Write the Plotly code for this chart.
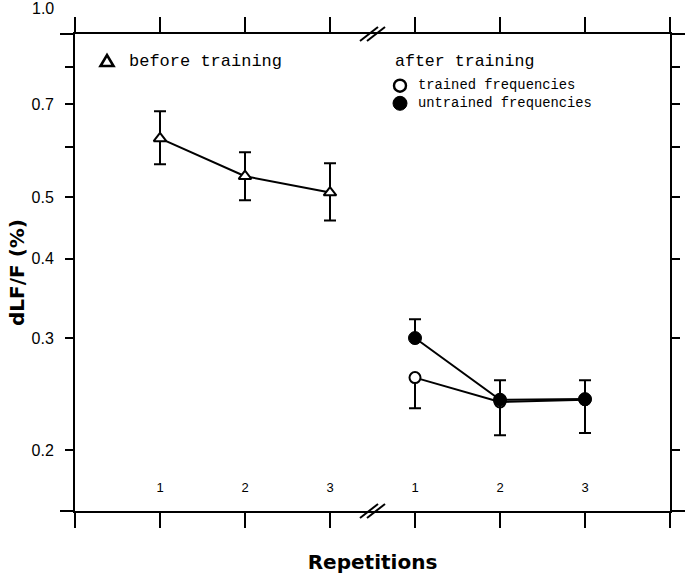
import math
import plotly.graph_objects as go

# ---------------- data ----------------
x_before = [1, 2, 3]
before_mean = [0.618, 0.539, 0.508]
before_hi = [0.682, 0.588, 0.565]
before_lo = [0.563, 0.494, 0.459]

x_after = [4, 5, 6]
trained_mean = [0.260, 0.238, 0.240]
trained_hi = [0.260, 0.238, 0.240]      # upper bars hidden / not drawn
trained_lo = [0.2326, 0.238, 0.240]

untrained_mean = [0.300, 0.240, 0.2405]
untrained_hi = [0.321, 0.2575, 0.2575]
untrained_lo = [0.300, 0.211, 0.2127]   # lower bar of first point not drawn

x_tickvals = [0, 1, 2, 3, 4, 5, 6, 7]
x_ticktext = ["", "1", "2", "3", "1", "2", "3", ""]
y_tickvals = [0.2, 0.3, 0.4, 0.5, 0.6, 0.7, 0.8]
y_ticktext = ["0.2", "0.3", "0.4", "0.5", "", "0.7", ""]
y_extra_label = 1.0
y_range = [0.1604, 0.902]
x_range = [0, 7]
x_break = 3.5

legend_before = "before training"
legend_after_title = "after training"
legend_trained = "trained frequencies"
legend_untrained = "untrained frequencies"
x_title = "Repetitions"
y_title = "dLF/F (%)"


def plus(m, h):
    return [round(a - b, 5) for a, b in zip(h, m)]


def minus(m, l):
    return [round(a - b, 5) for a, b in zip(m, l)]


BLACK = "black"
W, H = 685, 575
# plot area in pixels: left 75, right 670, top 34, bottom 511
PL, PR, PT, PB = 75, 670, 34, 511
PW, PH = PR - PL, PB - PT


def px(x):
    return (x - PL) / PW


def py(y):
    return (PB - y) / PH


LOG_LO, LOG_HI = math.log10(y_range[0]), math.log10(y_range[1])

fig = go.Figure()

err_style = dict(type="data", symmetric=False, color=BLACK, thickness=2, width=6)

fig.add_trace(go.Scatter(
    x=x_before, y=before_mean, mode="lines+markers",
    line=dict(color=BLACK, width=2),
    marker=dict(symbol="triangle-up", size=11, color="white",
                line=dict(color=BLACK, width=2)),
    error_y=dict(array=plus(before_mean, before_hi),
                 arrayminus=minus(before_mean, before_lo), **err_style),
    name=legend_before, showlegend=False))

fig.add_trace(go.Scatter(
    x=x_after, y=trained_mean, mode="lines+markers",
    line=dict(color=BLACK, width=2),
    marker=dict(symbol="circle", size=11, color="white",
                line=dict(color=BLACK, width=2)),
    error_y=dict(array=plus(trained_mean, trained_hi),
                 arrayminus=minus(trained_mean, trained_lo), **err_style),
    name=legend_trained, showlegend=False))

fig.add_trace(go.Scatter(
    x=x_after, y=untrained_mean, mode="lines+markers",
    line=dict(color=BLACK, width=2),
    marker=dict(symbol="circle", size=13, color=BLACK,
                line=dict(color=BLACK, width=1)),
    error_y=dict(array=plus(untrained_mean, untrained_hi),
                 arrayminus=minus(untrained_mean, untrained_lo), **err_style),
    name=legend_untrained, showlegend=False))

fig.update_xaxes(
    range=x_range, tickmode="array", tickvals=x_tickvals, ticktext=x_ticktext,
    ticks="outside", ticklen=15, tickwidth=2, tickcolor=BLACK,
    showline=True, linewidth=2, linecolor=BLACK, mirror="ticks",
    showgrid=False, zeroline=False,
    ticklabelposition="inside", ticklabelstandoff=16,
    tickfont=dict(family="Liberation Sans", size=13, color=BLACK),
    title=dict(text=x_title, font=dict(family="DejaVu Sans", size=20,
                                        color=BLACK, weight="bold"),
               standoff=61),
    automargin=False,
)
fig.update_yaxes(
    type="log", range=[LOG_LO, LOG_HI],
    tickmode="array", tickvals=y_tickvals, ticktext=y_ticktext,
    ticks="outside", ticklen=8, tickwidth=2, tickcolor=BLACK,
    showline=True, linewidth=2, linecolor=BLACK, mirror="ticks",
    showgrid=False, zeroline=False, ticklabelstandoff=8,
    tickfont=dict(family="Liberation Sans", size=16, color=BLACK),
    title=dict(text=y_title, font=dict(family="DejaVu Sans", size=20,
                                        color=BLACK, weight="bold"),
               standoff=2),
    automargin=False,
)

# "1.0" label that sits above the frame (placed with the log axis scale)
annotations = [dict(
    xref="paper", x=0, xshift=-20, xanchor="right",
    yref="paper",
    y=(math.log10(y_extra_label) - LOG_LO) / (LOG_HI - LOG_LO),
    yanchor="middle", yshift=-3, borderpad=0,
    text=f"{y_extra_label:.1f}", showarrow=False,
    font=dict(family="Liberation Sans", size=16, color=BLACK))]

mono = "Liberation Mono"
annotations += [
    dict(xref="paper", x=px(127), xanchor="left",
         yref="paper", y=py(61.7), yanchor="middle",
         text=legend_before, showarrow=False,
         font=dict(family=mono, size=17, color=BLACK)),
    dict(xref="paper", x=px(393), xanchor="left",
         yref="paper", y=py(61.7), yanchor="middle",
         text=legend_after_title, showarrow=False,
         font=dict(family=mono, size=16.6, color=BLACK)),
    dict(xref="paper", x=px(416), xanchor="left",
         yref="paper", y=py(85.7), yanchor="middle",
         text=legend_trained, showarrow=False,
         font=dict(family=mono, size=13.8, color=BLACK)),
    dict(xref="paper", x=px(416), xanchor="left",
         yref="paper", y=py(103.3), yanchor="middle",
         text=legend_untrained, showarrow=False,
         font=dict(family=mono, size=13.8, color=BLACK)),
]

shapes = []
# legend symbols
shapes.append(dict(type="path", xref="paper", xsizemode="pixel",
                   xanchor=px(107), yref="paper", ysizemode="pixel",
                   yanchor=py(61),
                   path="M -6.5,-5 L 6.5,-5 L 0,6 Z",
                   line=dict(color=BLACK, width=2.6), fillcolor="white"))
shapes.append(dict(type="circle", xref="paper", xsizemode="pixel",
                   xanchor=px(400), yref="paper", ysizemode="pixel",
                   yanchor=py(85.7), x0=-6, x1=6, y0=-6, y1=6,
                   line=dict(color=BLACK, width=2.4), fillcolor="white"))
shapes.append(dict(type="circle", xref="paper", xsizemode="pixel",
                   xanchor=px(400), yref="paper", ysizemode="pixel",
                   yanchor=py(103.3), x0=-7, x1=7, y0=-7, y1=7,
                   line=dict(color=BLACK, width=1), fillcolor=BLACK))
# axis breaks
for yv in (0, 1):
    for dx in (-12.5, -5.5):
        shapes.append(dict(type="line", xref="x", xsizemode="pixel",
                           xanchor=x_break, yref="paper", ysizemode="pixel",
                           yanchor=yv, x0=dx, x1=dx + 18, y0=-7, y1=7,
                           line=dict(color=BLACK, width=2)))
# frame corner extensions
for yv in (0, 1):
    shapes.append(dict(type="line", xref="paper", xsizemode="pixel", xanchor=0,
                       x0=-15, x1=0, yref="paper", y0=yv, y1=yv,
                       line=dict(color=BLACK, width=2)))
    shapes.append(dict(type="line", xref="paper", xsizemode="pixel", xanchor=1,
                       x0=0, x1=15, yref="paper", y0=yv, y1=yv,
                       line=dict(color=BLACK, width=2)))

fig.update_layout(
    width=W, height=H,
    margin=dict(l=PL, r=W - PR, t=PT, b=H - PB),
    plot_bgcolor="white", paper_bgcolor="white",
    showlegend=False,
    annotations=annotations, shapes=shapes,
)

# remove the browser's default page margin so the figure sits at (0, 0)
fig.write_html(
    "out.html",
    config={"displayModeBar": False},
    post_script="document.body.style.margin='0';"
                "document.documentElement.style.overflow='hidden';",
)
